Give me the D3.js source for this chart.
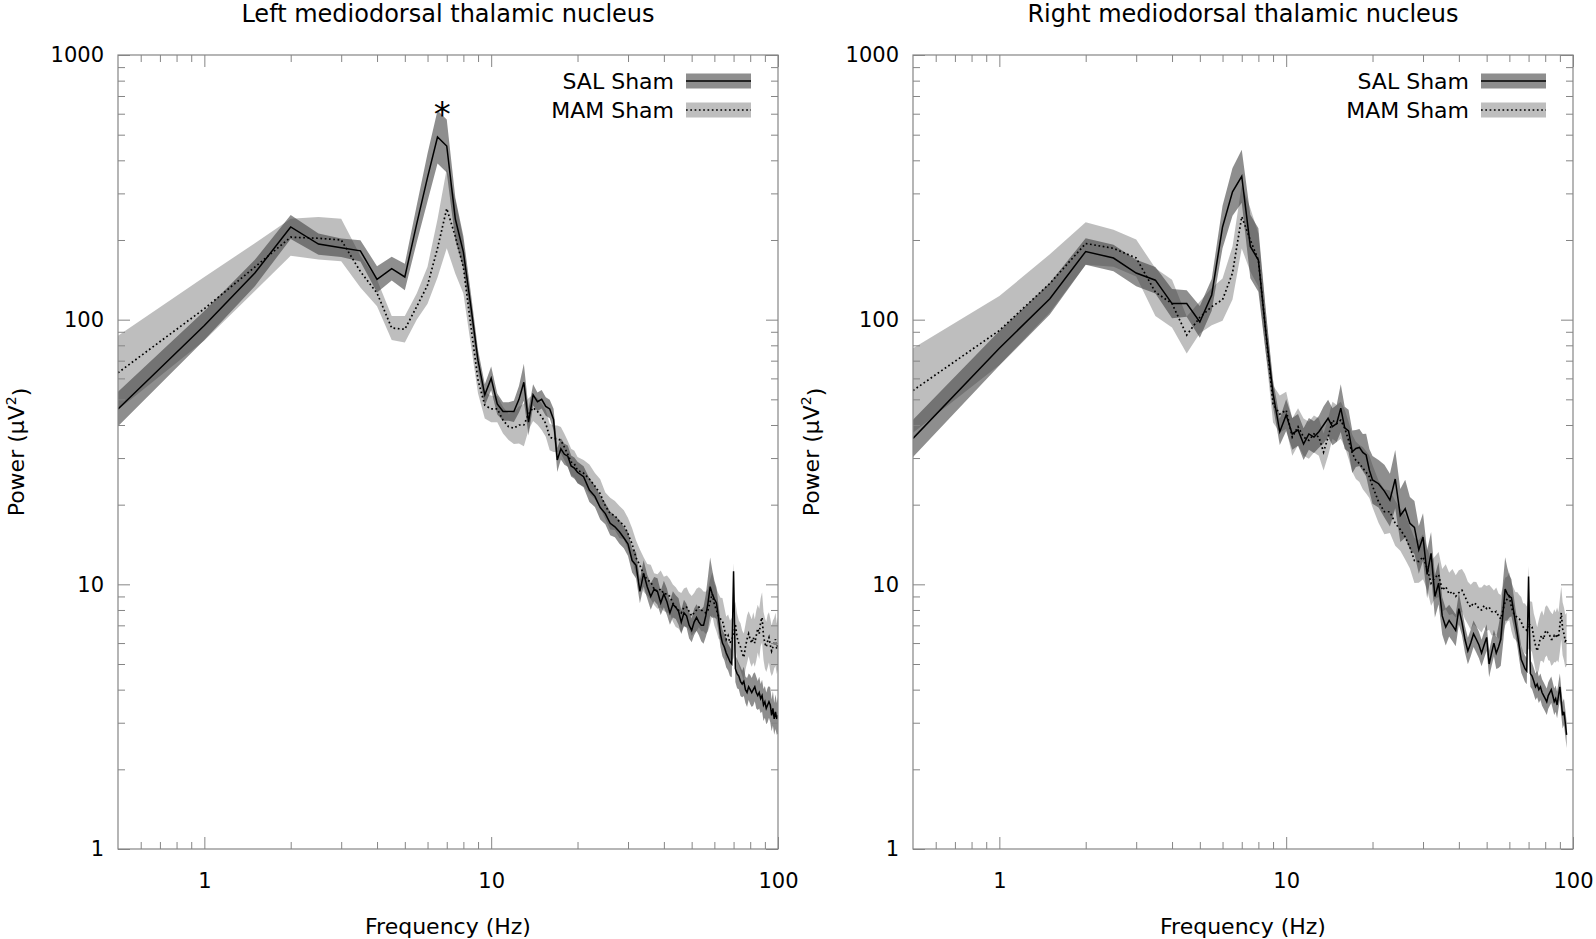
<!DOCTYPE html>
<html><head><meta charset="utf-8">
<script src="https://cdn.jsdelivr.net/npm/d3@7"></script>
<style>
body{margin:0;background:#fff;}
svg{display:block;font-family:"DejaVu Sans",sans-serif;}
</style>
</head><body>
<svg id="chart" width="1596" height="939"></svg>
<script>
// ---------- data ----------
const freqs = [0.5,1,1.5,2,2.5,3,3.5,4,4.5,5,5.5,6,6.5,7,7.5,8,8.5,9,9.5,10,
  10.5,11,11.5,12,12.5,13,13.5,14,14.5,15,15.5,16,16.5,17,17.5,18,18.5,19,19.5,20,
  21,22,23,24,25,26,27,28,29,30,31,32,33,34,35,36,37,38,39,40,
  41,42,43,44,45,46,47,48,49,50,51,52,53,54,55,56,57,58,59,60,
  61,62,63,64,65,66,67,68,69,70,71,72,73,74,75,76,77,78,79,80,
  81,82,83,84,85,86,87,88,89,90,91,92,93,94,95,96,97,98,99,100];

// Left panel: SAL Sham mean power (uV^2)
const leftSal = [46,95,150,224,193,187,182,142,156,145,230,345,490,453,240,180,112,70,52,60,
  48,45,45,45,50,58,41,52,49,50,47,46,42,29.5,32.5,31,30.5,28,27.5,26.5,
  25.5,22.7,21.5,19.5,18.5,17,16.5,15.8,15.0,14.2,
  12.3,11.8,9.4,11.0,9.8,9.0,9.6,9.4,8.5,9.2,
  8.6,7.8,8.4,8.2,7.9,7.2,7.8,7.6,7.0,6.7,
  7.2,7.5,7.2,7.0,7.0,7.6,8.5,9.8,9.2,8.8,
  8.5,7.5,6.5,6.0,5.8,5.5,5.3,5.1,5.0,11.2,
  4.8,4.6,4.5,4.3,4.2,4.3,4.0,3.9,4.1,4.0,
  3.9,4.0,4.1,3.9,3.8,3.9,3.7,3.8,3.5,3.6,
  3.4,3.5,3.6,3.5,3.2,3.4,3.1,3.3,3.1,3.2];
// Left panel: SAL Sham SEM half-width (log10 units)
const leftSalErr = [0.065,0.055,0.05,0.045,0.04,0.035,0.04,0.05,0.045,0.05,0.07,0.09,0.1,0.1,0.08,0.06,0.05,0.04,0.04,0.045,
  0.04,0.035,0.035,0.04,0.05,0.07,0.05,0.04,0.035,0.035,0.035,0.035,0.04,0.045,0.04,0.04,0.04,0.04,0.04,0.04,
  0.04,0.045,0.04,0.045,0.04,0.045,0.04,0.045,0.04,0.045,
  0.045,0.05,0.045,0.05,0.045,0.05,0.045,0.05,0.045,0.05,
  0.05,0.045,0.05,0.045,0.05,0.045,0.05,0.045,0.05,0.045,
  0.05,0.05,0.05,0.06,0.07,0.08,0.1,0.11,0.09,0.07,
  0.06,0.05,0.05,0.05,0.05,0.055,0.05,0.055,0.05,0.03,
  0.05,0.055,0.05,0.055,0.05,0.055,0.05,0.055,0.05,0.055,
  0.055,0.06,0.055,0.06,0.055,0.06,0.055,0.06,0.06,0.06,
  0.06,0.065,0.06,0.065,0.06,0.065,0.06,0.065,0.06,0.07];
// Left panel: MAM Sham mean power
const leftMam = [63,110,158,205,203,200,152,126,93,92,112,135,186,263,206,158,94,59,47.5,46,
  46,41.7,39.4,38.9,40,40,44,46.5,45,43,40.5,36,35.5,35.5,35,33,31,29,28.5,27,
  26.3,25,23.5,22,19.8,18.5,18.2,17.2,16.8,15.5,
  14.2,12.6,11.8,10.9,10.4,10.2,9.6,9.4,9.6,9.2,
  9.2,9.0,8.5,8.2,8.0,7.8,8.2,8.2,7.9,7.6,
  7.8,8.0,8.2,8.0,7.9,7.8,8.0,8.6,9.2,8.4,
  8.0,7.6,7.4,7.3,6.8,6.2,6.4,6.0,6.2,6.4,
  7.1,6.3,6.0,5.8,5.5,5.3,5.8,6.2,6.5,6.2,
  6.0,6.3,6.0,6.4,6.8,6.5,7.2,7.5,6.4,6.0,
  5.8,6.1,6.3,5.9,5.6,5.8,6.0,6.2,5.7,6.0];
const leftMamErr = [0.14,0.12,0.09,0.07,0.08,0.08,0.06,0.05,0.045,0.05,0.05,0.07,0.11,0.15,0.14,0.1,0.07,0.05,0.05,0.05,
  0.05,0.05,0.05,0.06,0.07,0.08,0.06,0.05,0.05,0.05,0.05,0.05,0.05,0.05,0.05,0.05,0.05,0.05,0.05,0.05,
  0.05,0.055,0.05,0.055,0.05,0.06,0.055,0.06,0.055,0.06,
  0.06,0.065,0.06,0.065,0.06,0.065,0.06,0.065,0.07,0.065,
  0.07,0.065,0.07,0.075,0.07,0.075,0.07,0.075,0.07,0.075,
  0.075,0.08,0.075,0.08,0.075,0.08,0.08,0.085,0.08,0.08,
  0.08,0.085,0.08,0.085,0.08,0.085,0.08,0.085,0.08,0.085,
  0.085,0.09,0.085,0.09,0.085,0.09,0.085,0.09,0.085,0.09,
  0.09,0.095,0.09,0.095,0.09,0.095,0.09,0.095,0.09,0.095,
  0.095,0.1,0.095,0.1,0.095,0.1,0.095,0.1,0.095,0.1];

// Right panel (data end at 95 Hz)
const rightSal = [35.6,78,120,181,171,150,141,115,115,98,124,224,304,348,189,168,89,52.6,37.7,43.6,
  37,38.3,33.9,37,36,37.7,40,42.4,39.4,40.5,46.3,39,38,31.7,32.6,32.9,31.5,30.8,27,24.8,
  24,22.5,20.8,25.0,18.2,19.3,17.0,16.4,13.5,15.1,
  10.9,13.1,9.0,10.1,7.6,6.9,7.3,7.0,6.7,8.1,
  7.2,6.2,5.6,6.0,6.5,6.2,5.9,5.5,5.9,6.3,
  5.0,5.5,6.0,5.5,5.8,6.2,7.8,9.6,9.2,9.0,
  8.9,8.0,7.2,6.5,5.8,5.2,5.0,4.8,4.7,10.7,
  4.6,4.5,4.3,4.1,4.2,4.0,4.1,3.9,3.8,3.7,
  3.6,3.8,3.9,4.0,3.8,3.6,3.7,3.5,3.8,4.1,
  3.6,3.2,3.3,3.0,2.7];
const rightSalErr = [0.07,0.065,0.06,0.05,0.05,0.05,0.05,0.055,0.05,0.06,0.06,0.08,0.09,0.1,0.12,0.12,0.08,0.05,0.05,0.06,
  0.06,0.06,0.06,0.06,0.06,0.06,0.07,0.07,0.07,0.07,0.09,0.08,0.08,0.08,0.07,0.07,0.07,0.08,0.08,0.09,
  0.09,0.1,0.1,0.11,0.1,0.11,0.1,0.1,0.09,0.09,
  0.09,0.08,0.08,0.08,0.07,0.07,0.06,0.06,0.06,0.06,
  0.05,0.05,0.05,0.05,0.05,0.05,0.05,0.05,0.05,0.05,
  0.05,0.05,0.05,0.06,0.08,0.1,0.12,0.12,0.1,0.08,
  0.07,0.06,0.05,0.05,0.05,0.05,0.05,0.05,0.05,0.04,
  0.05,0.05,0.05,0.05,0.05,0.05,0.05,0.05,0.05,0.05,
  0.05,0.05,0.05,0.05,0.05,0.05,0.05,0.05,0.05,0.05,
  0.05,0.05,0.05,0.05,0.05];
const rightMam = [54,91,137,194,186,171,127,115,87.5,102,112,119,150,245,200,168,89,48,44,45.5,
  36,39.4,36,35,37,36,31.6,36,41.7,40.5,41.7,38.9,35,31.3,29.4,28.6,27.5,26.5,25.5,23.5,
  20.5,18.8,18.8,17.0,16.1,15.1,13.8,12.3,12.2,12.7,
  11.5,10.1,10.6,10.9,9.5,9.8,9.2,9.4,9.0,9.3,
  9.5,9.0,8.5,8.2,8.5,8.4,8.1,8.0,8.3,8.1,
  8.2,7.9,7.8,7.9,7.6,7.4,8.0,8.6,8.8,9.0,
  8.2,7.8,7.6,7.5,7.4,7.2,6.9,6.8,6.7,7.1,
  7.0,6.9,6.3,5.9,5.6,5.9,6.3,6.4,6.2,6.6,
  6.7,6.5,6.4,6.2,6.2,6.4,6.3,6.5,6.3,7.0,
  7.8,6.8,6.5,6.1,6.2];
const rightMamErr = [0.16,0.13,0.11,0.08,0.07,0.07,0.09,0.09,0.07,0.06,0.07,0.08,0.1,0.12,0.12,0.1,0.08,0.07,0.07,0.07,
  0.07,0.07,0.07,0.07,0.07,0.07,0.07,0.07,0.07,0.07,0.07,0.07,0.07,0.07,0.07,0.07,0.08,0.08,0.08,0.08,
  0.08,0.085,0.08,0.085,0.08,0.085,0.08,0.085,0.08,0.085,
  0.08,0.085,0.08,0.085,0.08,0.085,0.08,0.085,0.08,0.085,
  0.08,0.085,0.08,0.085,0.08,0.085,0.08,0.085,0.08,0.085,
  0.085,0.09,0.085,0.09,0.085,0.09,0.09,0.09,0.085,0.09,
  0.09,0.095,0.09,0.095,0.09,0.095,0.09,0.095,0.09,0.095,
  0.09,0.095,0.09,0.095,0.09,0.095,0.09,0.095,0.09,0.095,
  0.095,0.1,0.095,0.1,0.095,0.1,0.095,0.1,0.095,0.1,
  0.1,0.1,0.1,0.1,0.1];

const xMajor = [1,10,100];
const xMinor = [0.6,0.7,0.8,0.9,2,3,4,5,6,7,8,9,20,30,40,50,60,70,80,90];
const yMajor = [1,10,100,1000];
const yMinor = [2,3,4,5,6,7,8,9,20,30,40,50,60,70,80,90,200,300,400,500,600,700,800,900];
const seriesNames = ["SAL Sham","MAM Sham"];
const titles = ["Left mediodorsal thalamic nucleus","Right mediodorsal thalamic nucleus"];

// ---------- drawing ----------
const svg = d3.select("#chart");
const TOP = 55, BOTTOM = 849;
const AXIS_COLOR = "#858585";
const SAL_FILL = "rgb(60,60,60)", SAL_OP = 0.58;
const MAM_FILL = "rgb(125,125,125)", MAM_OP = 0.5;

const panels = [
  {id:0, title:titles[0], left:118, right:778, sal:leftSal, salErr:leftSalErr, mam:leftMam, mamErr:leftMamErr, star:6.75},
  {id:1, title:titles[1], left:913, right:1573, sal:rightSal, salErr:rightSalErr, mam:rightMam, mamErr:rightMamErr, star:null}
];

function rows(vals, errs){ return vals.map((v,i)=>({f:freqs[i], v:v, e:errs[i]})); }

panels.forEach(p=>{
  const x = d3.scaleLog().domain([0.5,100]).range([p.left,p.right]);
  const y = d3.scaleLog().domain([1,1000]).range([BOTTOM,TOP]);
  const g = svg.append("g");

  svg.append("clipPath").attr("id","clip"+p.id).append("rect")
    .attr("x",p.left).attr("y",TOP).attr("width",p.right-p.left).attr("height",BOTTOM-TOP);

  const area = d3.area().x(d=>x(d.f))
    .y0(d=>y(d.v/Math.pow(10,d.e))).y1(d=>y(d.v*Math.pow(10,d.e)));
  const line = d3.line().x(d=>x(d.f)).y(d=>y(d.v));
  const sal = rows(p.sal,p.salErr), mam = rows(p.mam,p.mamErr);

  const plot = g.append("g").attr("clip-path","url(#clip"+p.id+")");
  plot.append("path").datum(mam).attr("d",area).attr("fill",MAM_FILL).attr("fill-opacity",MAM_OP);
  plot.append("path").datum(sal).attr("d",area).attr("fill",SAL_FILL).attr("fill-opacity",SAL_OP);
  plot.append("path").datum(mam).attr("d",line).attr("fill","none").attr("stroke","#000")
    .attr("stroke-width",1.7).attr("stroke-dasharray","1.7,2.6");
  plot.append("path").datum(sal).attr("d",line).attr("fill","none").attr("stroke","#000")
    .attr("stroke-width",1.5);

  // axes
  const styleAxis = sel=>{
    sel.select(".domain").remove();
    sel.selectAll(".tick line").attr("stroke",AXIS_COLOR);
    sel.selectAll(".tick text").attr("fill","#000").style("font-size","21px")
      .style("font-family","'DejaVu Sans',sans-serif");
  };
  g.append("g").attr("transform",`translate(0,${BOTTOM})`)
    .call(d3.axisBottom(x).tickValues(xMajor).tickFormat(d3.format("d")).tickSize(-12).tickSizeOuter(0).tickPadding(24))
    .call(styleAxis);
  g.append("g").attr("transform",`translate(0,${BOTTOM})`)
    .call(d3.axisBottom(x).tickValues(xMinor).tickFormat("").tickSize(-7).tickSizeOuter(0)).call(styleAxis);
  g.append("g").attr("transform",`translate(0,${TOP})`)
    .call(d3.axisTop(x).tickValues(xMajor).tickFormat("").tickSize(-12).tickSizeOuter(0)).call(styleAxis);
  g.append("g").attr("transform",`translate(0,${TOP})`)
    .call(d3.axisTop(x).tickValues(xMinor).tickFormat("").tickSize(-7).tickSizeOuter(0)).call(styleAxis);
  g.append("g").attr("transform",`translate(${p.left},0)`)
    .call(d3.axisLeft(y).tickValues(yMajor).tickFormat(d3.format("d")).tickSize(-12).tickSizeOuter(0).tickPadding(14))
    .call(styleAxis);
  g.append("g").attr("transform",`translate(${p.left},0)`)
    .call(d3.axisLeft(y).tickValues(yMinor).tickFormat("").tickSize(-7).tickSizeOuter(0)).call(styleAxis);
  g.append("g").attr("transform",`translate(${p.right},0)`)
    .call(d3.axisRight(y).tickValues(yMajor).tickFormat("").tickSize(-12).tickSizeOuter(0)).call(styleAxis);
  g.append("g").attr("transform",`translate(${p.right},0)`)
    .call(d3.axisRight(y).tickValues(yMinor).tickFormat("").tickSize(-7).tickSizeOuter(0)).call(styleAxis);

  g.append("rect").attr("x",p.left).attr("y",TOP).attr("width",p.right-p.left).attr("height",BOTTOM-TOP)
    .attr("fill","none").attr("stroke",AXIS_COLOR).attr("stroke-width",1.2);

  // titles & labels
  const cx = (p.left+p.right)/2;
  g.append("text").attr("x",cx).attr("y",22).attr("text-anchor","middle")
    .style("font-size","24px").text(p.title);
  g.append("text").attr("x",cx).attr("y",934).attr("text-anchor","middle")
    .style("font-size","22px").text("Frequency (Hz)");
  const yl = g.append("text").attr("transform",`translate(${p.left-94},${(TOP+BOTTOM)/2}) rotate(-90)`)
    .attr("text-anchor","middle").style("font-size","22px");
  yl.append("tspan").text("Power (μV");
  yl.append("tspan").attr("dy","-0.55em").style("font-size","14px").text("2");
  yl.append("tspan").attr("dy","0.55em").text(")");

  // legend
  const lg = g.append("g");
  const legendRows = [
    {name:seriesNames[0], fill:SAL_FILL, op:SAL_OP, dash:null, y:81},
    {name:seriesNames[1], fill:MAM_FILL, op:MAM_OP, dash:"1.7,2.6", y:110}
  ];
  legendRows.forEach(r=>{
    lg.append("text").attr("x",p.right-104).attr("y",r.y).attr("dy","0.36em")
      .attr("text-anchor","end").style("font-size","22px").text(r.name);
    lg.append("rect").attr("x",p.right-92).attr("y",r.y-7.5).attr("width",65).attr("height",15)
      .attr("fill",r.fill).attr("fill-opacity",r.op);
    const ln = lg.append("line").attr("x1",p.right-92).attr("x2",p.right-27).attr("y1",r.y).attr("y2",r.y)
      .attr("stroke","#000").attr("stroke-width",r.dash?1.7:1.5);
    if(r.dash) ln.attr("stroke-dasharray",r.dash);
  });

  if(p.star){
    g.append("text").attr("x",x(p.star)).attr("y",126).attr("text-anchor","middle")
      .style("font-size","34px").text("*");
  }
});
</script>
</body></html>
